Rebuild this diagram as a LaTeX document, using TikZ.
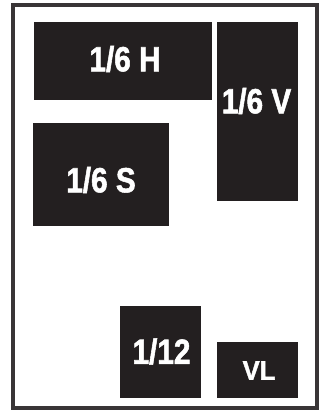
\documentclass[tikz,border=0pt]{standalone}
\usepackage{fontspec}
\newfontfamily\condbold[FakeStretch=0.85,FakeBold=1.5]{Liberation Sans}
\newfontfamily\condboldw[FakeStretch=0.95,FakeBold=1.5]{Liberation Sans}
\definecolor{blk}{HTML}{231F20}
\tikzset{
  ad/.style={fill=blk, draw=none},
  lbl/.style={text=white, font=\condbold\bfseries\fontsize{35}{35}\selectfont, inner sep=0pt},
  lblsmall/.style={text=white, font=\condboldw\bfseries\fontsize{27}{27}\selectfont, inner sep=0pt},
  frame/.style={draw=blk!90, line width=4pt}
}
\begin{document}
\begin{tikzpicture}[x=1pt,y=-1pt]
\useasboundingbox (0,0) rectangle (325,413);
\fill[white] (0,0) rectangle (325,413);
\draw[frame] (13,5) rectangle (317,408);
\fill[ad] (34,22) rectangle (212,100);
\fill[ad] (217,22) rectangle (298,201);
\fill[ad] (33,123) rectangle (169,226);
\fill[ad] (120,306) rectangle (201,398);
\fill[ad] (217,342) rectangle (298,398);
\node[lbl] (h) at (125,59) {1/6 H};
\node[lbl] (v) at (256.5,101) {1/6 V};
\node[lbl] (s) at (101,180) {1/6 S};
\node[lbl] (t) at (161.5,351.5) {1/12};
\node[lblsmall] (vl) at (259,370.5) {VL};
\end{tikzpicture}
\end{document}
